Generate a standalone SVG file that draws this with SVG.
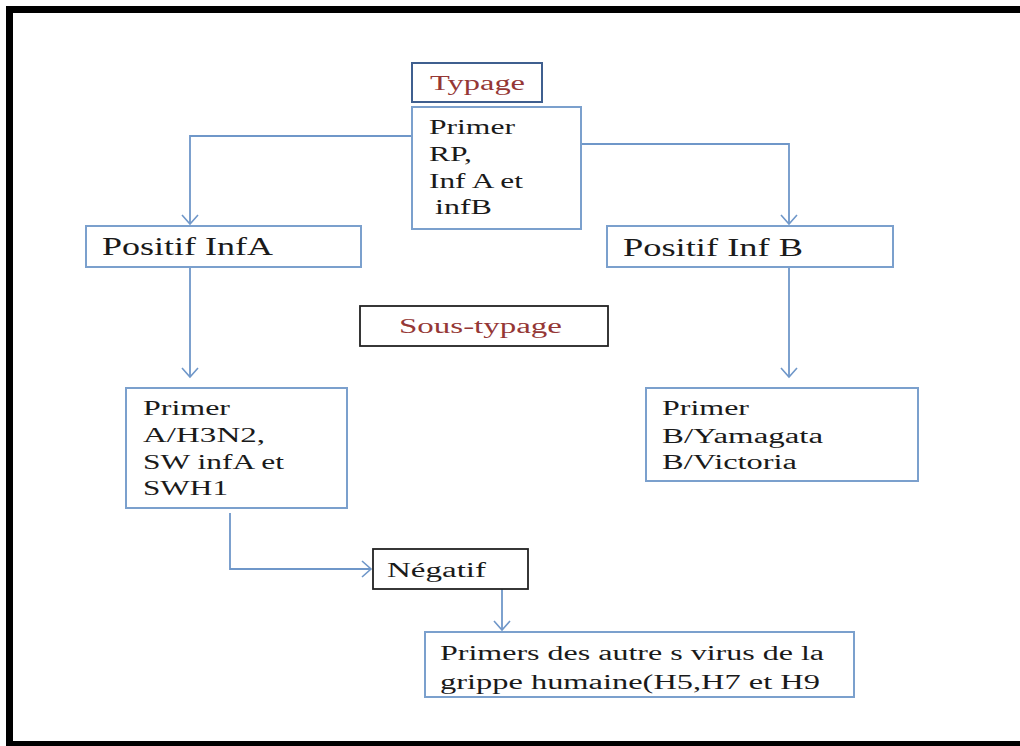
<svg xmlns="http://www.w3.org/2000/svg" width="1020" height="746" viewBox="0 0 1020 746">
<style>
text{font-family:"Liberation Serif","Times New Roman",serif;font-size:20px;fill:#1a1a1a}
.brown{fill:#953735}
.big{font-size:25px}
.bl{fill:#fff;stroke:#7ba0cd;stroke-width:2}
.dk{fill:#fff;stroke:#3f5f8f;stroke-width:2}
.bk{fill:#fff;stroke:#222;stroke-width:1.8}
.con{fill:none;stroke:#6f97c9;stroke-width:1.8}
</style>
<defs>
<marker id="arr" markerUnits="userSpaceOnUse" markerWidth="22" markerHeight="22" viewBox="-11 -11 22 22" refX="0" refY="0" orient="auto">
<path d="M-9,-8 L0,0 L-9,8" fill="none" stroke="#6f97c9" stroke-width="1.6"/>
</marker>
</defs>
<rect x="0" y="0" width="1020" height="746" fill="#fff"/>
<rect x="9.5" y="9.5" width="1030" height="735" fill="none" stroke="#000" stroke-width="7"/>
<g id="connectors">
<path class="con" d="M412,136 H190 V224" marker-end="url(#arr)"/>
<path class="con" d="M581,144 H789 V224" marker-end="url(#arr)"/>
<path class="con" d="M190,267 V377" marker-end="url(#arr)"/>
<path class="con" d="M789,267 V377" marker-end="url(#arr)"/>
<path class="con" d="M230,513 V569 H371" marker-end="url(#arr)"/>
<path class="con" d="M502,586 V630" marker-end="url(#arr)"/>
</g>
<g id="typage">
<rect class="dk" x="412" y="63" width="130" height="39"/>
<text class="brown" x="430" y="90" textLength="95" lengthAdjust="spacingAndGlyphs">Typage</text>
</g>
<g id="primer-rp">
<rect class="bl" x="412" y="107" width="169" height="122"/>
<text x="429" y="134" textLength="86" lengthAdjust="spacingAndGlyphs">Primer</text>
<text x="429" y="161" textLength="43" lengthAdjust="spacingAndGlyphs">RP,</text>
<text x="429" y="188" textLength="94" lengthAdjust="spacingAndGlyphs">Inf A et</text>
<text x="435" y="214" textLength="57" lengthAdjust="spacingAndGlyphs">infB</text>
</g>
<g id="positif-infa">
<rect class="bl" x="86" y="226" width="275" height="41"/>
<text class="big" x="102" y="255" textLength="171" lengthAdjust="spacingAndGlyphs">Positif InfA</text>
</g>
<g id="positif-infb">
<rect class="bl" x="607" y="226" width="286" height="41"/>
<text class="big" x="623" y="256" textLength="180" lengthAdjust="spacingAndGlyphs">Positif Inf B</text>
</g>
<g id="sous-typage">
<rect class="bk" x="360" y="306" width="248" height="40"/>
<text class="brown" x="399" y="333" textLength="163" lengthAdjust="spacingAndGlyphs">Sous-typage</text>
</g>
<g id="primer-a">
<rect class="bl" x="126" y="388" width="221" height="120"/>
<text x="143" y="415" textLength="87" lengthAdjust="spacingAndGlyphs">Primer</text>
<text x="143" y="442" textLength="122" lengthAdjust="spacingAndGlyphs">A/H3N2,</text>
<text x="143" y="469" textLength="141" lengthAdjust="spacingAndGlyphs">SW infA et</text>
<text x="143" y="495" textLength="85" lengthAdjust="spacingAndGlyphs">SWH1</text>
</g>
<g id="primer-b">
<rect class="bl" x="646" y="388" width="272" height="93"/>
<text x="662" y="415" textLength="87" lengthAdjust="spacingAndGlyphs">Primer</text>
<text x="662" y="443" textLength="161" lengthAdjust="spacingAndGlyphs">B/Yamagata</text>
<text x="662" y="469" textLength="135" lengthAdjust="spacingAndGlyphs">B/Victoria</text>
</g>
<g id="negatif">
<rect class="bk" x="373" y="549" width="155" height="40"/>
<text x="387" y="577" textLength="99" lengthAdjust="spacingAndGlyphs">Négatif</text>
</g>
<g id="primers-autres">
<rect class="bl" x="425" y="632" width="429" height="65"/>
<text x="440" y="660" textLength="384" lengthAdjust="spacingAndGlyphs">Primers des autre s virus de la</text>
<text x="440" y="689" textLength="380" lengthAdjust="spacingAndGlyphs">grippe humaine(H5,H7 et H9</text>
</g>
</svg>
